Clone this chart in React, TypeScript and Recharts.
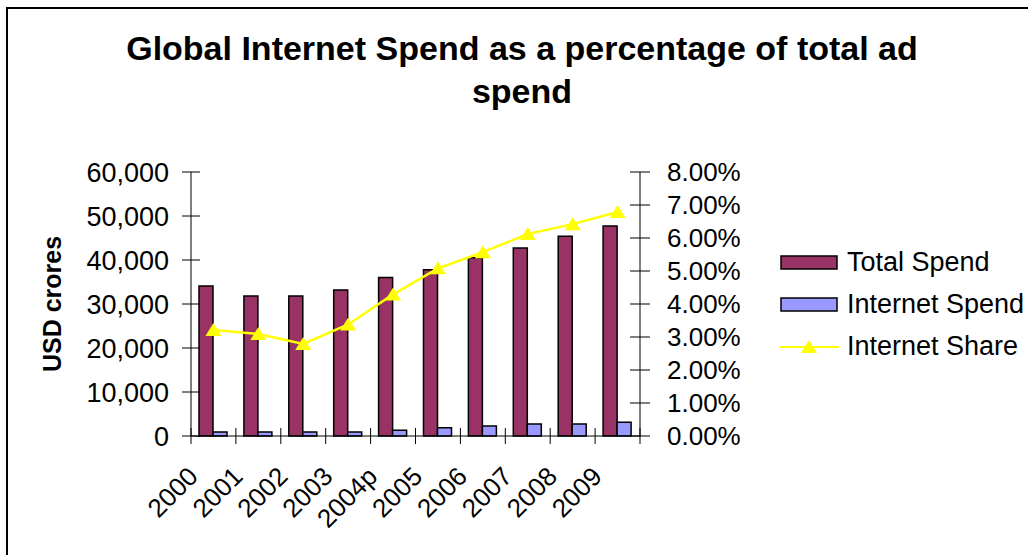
import React from 'react'
import { ComposedChart, Bar, Line, XAxis, YAxis, Legend } from 'recharts'

const years = ['2000', '2001', '2002', '2003', '2004p', '2005', '2006', '2007', '2008', '2009']
const totalSpend = [34100, 31800, 31800, 33200, 36000, 37800, 40500, 42700, 45400, 47700]
const internetSpend = [900, 900, 900, 900, 1300, 1850, 2300, 2750, 2750, 3150]
const internetShare = [0.0321, 0.0309, 0.0279, 0.0338, 0.0429, 0.0508, 0.0557, 0.0612, 0.0642, 0.0679]
const leftTicks = [0, 10000, 20000, 30000, 40000, 50000, 60000]
const rightTicks = [0, 0.01, 0.02, 0.03, 0.04, 0.05, 0.06, 0.07, 0.08]

const seriesNames = ['Total Spend', 'Internet Spend', 'Internet Share']

const data = years.map((year, i) => ({
  year,
  total: totalSpend[i],
  internet: internetSpend[i],
  share: internetShare[i]
}))

const FONT = "'Liberation Sans', Arial, sans-serif"
const W = 1028
const H = 555
const LEFT_X = 191
const RIGHT_X = 640
const TOP_Y = 172
const BOTTOM_Y = 436
const BAND = (RIGHT_X - LEFT_X) / years.length

const PLUM = '#993366'
const PERIWINKLE = '#9999FF'
const YELLOW = '#FFFF00'

const LeftTick = (props: any) => {
  const { y, payload } = props
  return (
    <g>
      <line x1={LEFT_X - 9} x2={LEFT_X + 9} y1={y} y2={y} stroke='#000' />
      <text x={LEFT_X - 22} y={y} dy='0.36em' textAnchor='end' fontSize={27} fontFamily={FONT} fill='#000'>
        {Number(payload.value).toLocaleString('en-US')}
      </text>
    </g>
  )
}

const RightTick = (props: any) => {
  const { y, payload } = props
  return (
    <g>
      <line x1={RIGHT_X - 10} x2={RIGHT_X + 10} y1={y} y2={y} stroke='#000' />
      <text x={RIGHT_X + 27} y={y} dy='0.36em' textAnchor='start' fontSize={26} fontFamily={FONT} fill='#000'>
        {(Number(payload.value) * 100).toFixed(2) + '%'}
      </text>
    </g>
  )
}

const BottomTick = (props: any) => {
  const { x, payload, index } = props
  const left = x - BAND / 2
  const tx = x - 14
  const ty = BOTTOM_Y + 42
  return (
    <g>
      <line x1={left} x2={left} y1={BOTTOM_Y - 8} y2={BOTTOM_Y + 8} stroke='#000' />
      {index === years.length - 1 ? (
        <line x1={x + BAND / 2} x2={x + BAND / 2} y1={BOTTOM_Y - 8} y2={BOTTOM_Y + 8} stroke='#000' />
      ) : null}
      <text
        x={tx}
        y={ty}
        textAnchor='end'
        fontSize={26}
        fontFamily={FONT}
        fill='#000'
        transform={`rotate(-45 ${tx} ${ty})`}
      >
        {payload.value}
      </text>
    </g>
  )
}

const Triangle = (props: any) => {
  const { cx, cy, index } = props
  if (cx == null || cy == null) return <g key={index} />
  return (
    <path
      key={index}
      d={`M${cx},${cy - 7} L${cx + 8},${cy + 6} L${cx - 8},${cy + 6} Z`}
      fill={YELLOW}
    />
  )
}

const LegendBox = () => {
  const row: React.CSSProperties = {
    display: 'flex',
    alignItems: 'center',
    height: 42,
    fontFamily: FONT,
    fontSize: 27,
    color: '#000',
    whiteSpace: 'nowrap'
  }
  return (
    <div>
      <div style={row}>
        <svg width={67} height={42}>
          <rect x={1} y={15} width={56} height={13} fill={PLUM} stroke='#000' strokeWidth={1.5} />
        </svg>
        <span>{seriesNames[0]}</span>
      </div>
      <div style={row}>
        <svg width={67} height={42}>
          <rect x={1} y={15} width={56} height={13} fill={PERIWINKLE} stroke='#000' strokeWidth={1.5} />
        </svg>
        <span>{seriesNames[1]}</span>
      </div>
      <div style={row}>
        <svg width={67} height={42}>
          <line x1={0} x2={59} y1={22} y2={22} stroke={YELLOW} strokeWidth={2} />
          <path d='M29,15 L37,28 L21,28 Z' fill={YELLOW} />
        </svg>
        <span>{seriesNames[2]}</span>
      </div>
    </div>
  )
}

const YLabel = () => (
  <text
    x={52}
    y={304}
    textAnchor='middle'
    dominantBaseline='central'
    fontSize={25}
    fontWeight='bold'
    fontFamily={FONT}
    fill='#000'
    transform='rotate(-90 52 304)'
  >
    USD crores
  </text>
)

export default function App() {
  return (
    <div
      style={{
        position: 'absolute',
        left: 0,
        top: 0,
        width: W,
        height: H,
        overflow: 'hidden',
        background: '#fff'
      }}
    >
      <div
        style={{
          position: 'absolute',
          left: 6,
          top: 7,
          width: 1100,
          height: 700,
          border: '2px solid #000'
        }}
      />
      <div
        style={{
          position: 'absolute',
          left: 122,
          top: 27,
          width: 800,
          textAlign: 'center',
          fontFamily: FONT,
          fontWeight: 'bold',
          fontSize: 34,
          lineHeight: '43px',
          color: '#000'
        }}
      >
        Global Internet Spend as a percentage of total ad spend
      </div>
      <div style={{ position: 'absolute', left: 0, top: 0 }}>
        <ComposedChart
          width={W}
          height={H}
          data={data}
          margin={{ top: TOP_Y, right: 0, bottom: 0, left: 0 }}
          barGap={0}
        >
          <XAxis
            dataKey='year'
            height={H - BOTTOM_Y}
            axisLine={{ stroke: '#000' }}
            tickLine={false}
            tick={<BottomTick />}
            interval={0}
          />
          <YAxis
            yAxisId='left'
            width={LEFT_X}
            domain={[0, 60000]}
            ticks={leftTicks}
            axisLine={{ stroke: '#000' }}
            tickLine={false}
            tick={<LeftTick />}
            label={<YLabel />}
          />
          <YAxis
            yAxisId='right'
            orientation='right'
            width={W - RIGHT_X}
            domain={[0, 0.08]}
            ticks={rightTicks}
            axisLine={{ stroke: '#000' }}
            tickLine={false}
            tick={<RightTick />}
          />
          <Bar
            yAxisId='left'
            dataKey='total'
            name={seriesNames[0]}
            fill={PLUM}
            stroke='#000'
            strokeWidth={1.5}
            barSize={14}
            isAnimationActive={false}
          />
          <Bar
            yAxisId='left'
            dataKey='internet'
            name={seriesNames[1]}
            fill={PERIWINKLE}
            stroke='#000'
            strokeWidth={1.5}
            barSize={14}
            isAnimationActive={false}
          />
          <Line
            yAxisId='right'
            dataKey='share'
            name={seriesNames[2]}
            type='linear'
            stroke={YELLOW}
            strokeWidth={2.5}
            dot={(p: any) => <Triangle key={p.index} {...p} />}
            activeDot={false}
            isAnimationActive={false}
          />
          <Legend
            layout='vertical'
            align='center'
            verticalAlign='middle'
            content={<LegendBox />}
            wrapperStyle={{ left: 780, top: 241, width: 248, height: 126 }}
          />
        </ComposedChart>
      </div>
    </div>
  )
}
